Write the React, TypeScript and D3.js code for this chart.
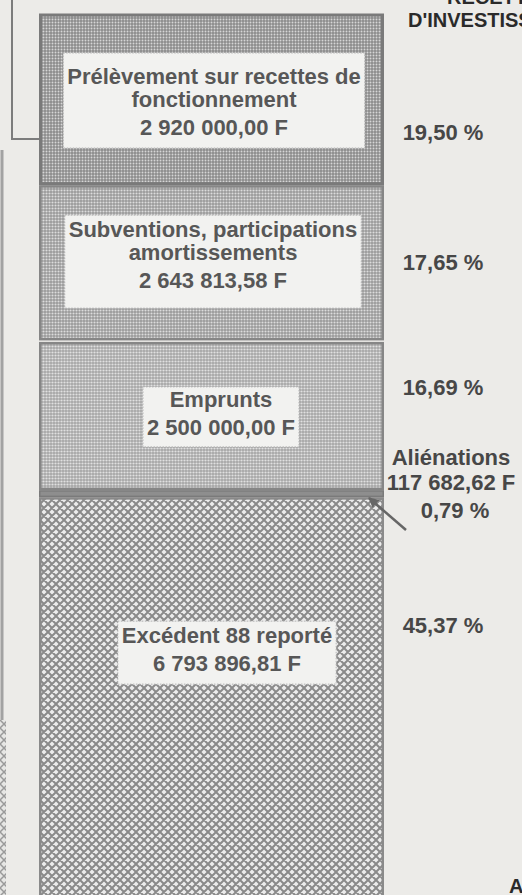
import React, { useMemo } from "react";
import * as d3 from "d3";

// ---- data ----
const categories = [
  "Prélèvement sur recettes de fonctionnement",
  "Subventions, participations amortissements",
  "Emprunts",
  "Aliénations",
  "Excédent 88 reporté",
];
const labelLines = [
  ["Prélèvement sur recettes de", "fonctionnement"],
  ["Subventions, participations", "amortissements"],
  ["Emprunts"],
  ["Aliénations"],
  ["Excédent 88 reporté"],
];
const amounts = [2920000.0, 2643813.58, 2500000.0, 117682.62, 6793896.81];
const percents = [19.5, 17.65, 16.69, 0.79, 45.37];
const titleLines = ["RECETTES", "D'INVESTISSEMENT"];

// ---- layout (not data) ----
const W = 522;
const H = 895;
const BAR_X0 = 39;
const BAR_X1 = 384;
const FONT = "'Liberation Sans', Arial, Helvetica, sans-serif";
const FS = 22;
const LINE = 23;
// per segment: label center x, first baseline / box top / box bottom / percent baseline relative to segment top
const segLayout = [
  { cx: 214, base: 72, boxTop: 41, boxBot: 136, pct: 128 },
  { cx: 213, base: 52, boxTop: 30, boxBot: 123, pct: 85 },
  { cx: 221, base: 65, boxTop: 45, boxBot: 105, pct: 53 },
  { cx: 451, base: -25, boxTop: 0, boxBot: 0, pct: 28 },
  { cx: 227, base: 146, boxTop: 124, boxBot: 187, pct: 136 },
];
const fills = ["url(#dots1)", "url(#dots2)", "url(#dots3)", "#8e8e8e", "url(#cross)"];
const strokes = ["#7a7a7a", "#868686", "#868686", "#7a7a7a", "#8a8a8a"];
const strokeW = [3, 2.5, 2.5, 1.5, 2.5];

const fr = d3.formatLocale({
  decimal: ",",
  thousands: " ",
  grouping: [3],
  currency: ["", " F"],
});
const fmtAmount = (v: number) => fr.format(",.2f")(v) + " F";
const fmtPct = (v: number) => fr.format(".2f")(v) + " %";

function measure(text: string): number {
  if (typeof document === "undefined") return text.length * 12;
  const c = document.createElement("canvas").getContext("2d");
  if (!c) return text.length * 12;
  c.font = `bold ${FS}px ${FONT}`;
  return c.measureText(text).width;
}

export default function App() {
  const total = d3.sum(amounts);
  const y = d3.scaleLinear().domain([0, total]).range([12, 900]);
  const stacked = useMemo(() => {
    let acc = 0;
    return amounts.map((v, i) => {
      const s = { i, y0: acc, y1: acc + v };
      acc += v;
      return s;
    });
  }, []);

  const gaps = [[0, 1.5], [1.5, 0], [0, 0], [0, 0], [0, 0]];

  return (
    <svg
      width={W}
      height={H}
      style={{ position: "absolute", left: 0, top: 0, display: "block" }}
      fontFamily={FONT}
    >
      <defs>
        <pattern id="dots1" width="3" height="3" patternUnits="userSpaceOnUse">
          <rect width="3" height="3" fill="#8c8c8c" />
          <circle cx="1.5" cy="1.5" r="0.95" fill="#d6d6d6" />
        </pattern>
        <pattern id="dots2" width="3" height="3" patternUnits="userSpaceOnUse">
          <rect width="3" height="3" fill="#9a9a9a" />
          <circle cx="1.5" cy="1.5" r="1.05" fill="#dcdcdc" />
        </pattern>
        <pattern id="dots3" width="3" height="3" patternUnits="userSpaceOnUse">
          <rect width="3" height="3" fill="#a6a6a6" />
          <circle cx="1.5" cy="1.5" r="1.1" fill="#e0e0e0" />
        </pattern>
        <pattern id="cross" width="8" height="8" patternUnits="userSpaceOnUse">
          <rect width="8" height="8" fill="#ececec" />
          <path d="M-2,6 L2,10 M0,0 L8,8 M6,-2 L10,2 M-2,2 L2,-2 M0,8 L8,0 M6,10 L10,6" stroke="#8a8a8a" strokeWidth="2" />
        </pattern>
        <pattern id="edge" width="8" height="8" patternUnits="userSpaceOnUse">
          <rect width="8" height="8" fill="#e6e6e4" />
          <path d="M0,0 L8,8 M0,8 L8,0" stroke="#9a9a9a" strokeWidth="1.5" />
        </pattern>
        <marker id="arrowR" viewBox="0 0 10 10" refX="9" refY="5" markerWidth="5" markerHeight="5" orient="auto">
          <path d="M0,0 L10,5 L0,10 z" fill="#777" />
        </marker>
        <marker id="arrowUL" viewBox="0 0 10 10" refX="9" refY="5" markerWidth="4" markerHeight="4" orient="auto">
          <path d="M0,0 L10,5 L0,10 z" fill="#666" />
        </marker>
      </defs>

      <rect width={W} height={H} fill="#ecebe8" />

      {/* left page edge */}
      <line x1={2} y1={150} x2={2} y2={H} stroke="#a2a2a2" strokeWidth={3} />
      <rect x={0} y={720} width={6} height={H - 720} fill="url(#edge)" />

      {/* bracket arrow into top segment */}
      <polyline
        points={`12,0 12,139 52,139`}
        fill="none"
        stroke="#7c7c7c"
        strokeWidth={2}
        markerEnd="url(#arrowR)"
      />

      {/* title */}
      <text x={447} y={4} fontSize={20} fontWeight="bold" fill="#2a2a2a">
        {titleLines[0]}
      </text>
      <text x={408} y={27} fontSize={20} fontWeight="bold" fill="#2a2a2a">
        {titleLines[1]}
      </text>

      {/* segments */}
      {stacked.map((s) => {
        const top = y(s.y0) + gaps[s.i][1];
        const bot = y(s.y1) - gaps[s.i][0];
        const sw = strokeW[s.i];
        return (
          <rect
            key={categories[s.i]}
            x={BAR_X0 + sw / 2}
            y={top + sw / 2}
            width={BAR_X1 - BAR_X0 - sw}
            height={Math.max(0, bot - top - sw)}
            fill={fills[s.i]}
            stroke={strokes[s.i]}
            strokeWidth={sw}
          />
        );
      })}

      {/* labels */}
      {stacked.map((s) => {
        const L = segLayout[s.i];
        const top = y(s.y0);
        const lines = [...labelLines[s.i], fmtAmount(amounts[s.i])];
        const outside = s.i === 3;
        const widths = lines.map(measure);
        const maxW = d3.max(widths) || 0;
        const n = labelLines[s.i].length;
        const baselines = lines.map((_, k) =>
          top + L.base + (k < n ? k * LINE : (n - 1) * LINE + (outside ? 25 : 28))
        );
        return (
          <g key={"lab" + s.i}>
            {!outside && (
              <rect
                x={L.cx - maxW / 2 - 4}
                y={top + L.boxTop}
                width={maxW + 8}
                height={L.boxBot - L.boxTop}
                fill="#f2f2f0"
                stroke="#b5b5b5"
                strokeWidth={1}
                strokeDasharray="1.5 1.5"
              />
            )}
            {lines.map((t, k) => (
              <text
                key={k}
                x={L.cx}
                y={baselines[k]}
                textAnchor="middle"
                fontSize={FS}
                fontWeight="bold"
                fill={outside ? "#474747" : "#575757"}
              >
                {t}
              </text>
            ))}
            <text
              x={outside ? L.cx + 4 : 443}
              y={top + L.pct}
              textAnchor="middle"
              fontSize={FS}
              fontWeight="bold"
              fill="#474747"
            >
              {fmtPct(percents[s.i])}
            </text>
          </g>
        );
      })}

      {/* pointer for Aliénations */}
      <line
        x1={406}
        y1={530}
        x2={369}
        y2={498}
        stroke="#666"
        strokeWidth={2.5}
        markerEnd="url(#arrowUL)"
      />

      <text x={509} y={893} fontSize={20} fontWeight="bold" fill="#2a2a2a">
        A
      </text>
    </svg>
  );
}
